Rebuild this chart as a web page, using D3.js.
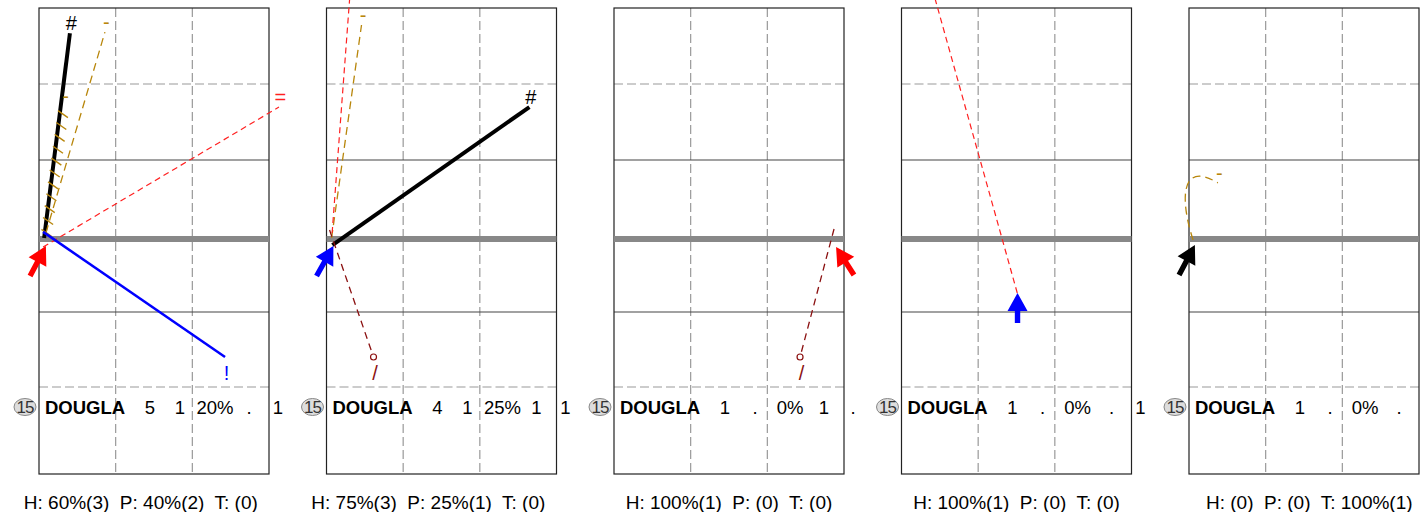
<!DOCTYPE html>
<html lang="en">
<head>
<meta charset="UTF-8">
<title>Attack chart</title>
<script src="https://cdn.jsdelivr.net/npm/d3@7"></script>
<style>
  body { margin: 0; background: #fff; }
  text { font-family: "Liberation Sans", Arial, sans-serif; }
</style>
</head>
<body>
<script>
// one panel per rotation / zone, same player in each
var panels = [0, 1, 2, 3, 4];
var playerNumber = "15";
var playerName = "DOUGLA";
var panelStats = [
  ["5", "1", "20%", ".", "1"],
  ["4", "1", "25%", "1", "1"],
  ["1", ".", "0%", "1", "."],
  ["1", ".", "0%", ".", "1"],
  ["1", ".", "0%", "."]
];
var panelSummary = [
  "H: 60%(3)  P: 40%(2)  T: (0)     ",
  "H: 75%(3)  P: 25%(1)  T: (0)     ",
  "H: 100%(1)  P: (0)  T: (0)",
  "H: 100%(1)  P: (0)  T: (0)",
  "  H: (0)  P: (0)  T: 100%(1)"
];

// attacks, court metres: x 0..9 left->right, y -9 (far end) .. 0 (net) .. 9
var attackPanel = [0, 0, 0, 0, 0, 1, 1, 1, 1, 2, 3, 4];
var attackCode  = ["#", "-", "-", "=", "!", "#", "-", "=", "/", "/", "=", "-"];
var attackX0 = [0.20, 0.27, 0.27, 0.16, 0.16, 0.23, 0.20, 0.22, 0.12, 8.61, 4.53, 0.16];
var attackY0 = [-0.04, -0.23, -0.08, 0.33, -0.27, 0.25, -0.04, -0.23, -0.34, -0.38, 2.22, 0.04];
var attackX1 = [1.21, 2.58, 0.98, 9.39, 7.28, 7.94, 1.37, 0.96, 1.84, 7.28, 1.11, 1.13];
var attackY1 = [-8.00, -8.05, -5.13, -5.09, 4.80, -5.09, -8.33, -10.1, 4.80, 4.80, -10.1, -2.13];
// hatched = drawn with cross ticks, bend = cubic control points
var attackHatch = [false, false, true, false, false, false, false, false, false, false, false, false];
var attackBend = [null, null, null, null, null, null, null, null, null, null, null,
  [[-0.35, -1.48], [-0.35, -3.0]]];

// arrow showing where the set came from
var arrowColor = ["red", "blue", "red", "blue", "black"];
var arrowTip  = [[0.27, 0.29], [0.27, 0.29], [8.69, 0.33], [4.54, 2.22], [0.23, 0.25]];
var arrowTail = [[-0.35, 1.52], [-0.39, 1.52], [9.39, 1.48], [4.54, 3.44], [-0.39, 1.48]];

var codeStyle = {
  "#": {stroke: "#000", width: 4, dash: null, label: "#000"},
  "-": {stroke: "#b8860b", width: 1.3, dash: "8,5", label: "#b8860b"},
  "=": {stroke: "#ff2020", width: 1.2, dash: "6,4", label: "#ff2020"},
  "!": {stroke: "#0000ff", width: 2.5, dash: null, label: "#0000ff"},
  "/": {stroke: "#8b1010", width: 1.3, dash: "7,5", label: "#8b1010"}
};

var W = 1427, H = 512;
var svg = d3.select("body").append("svg")
    .attr("width", W)
    .attr("height", H);

var panelX = d3.scaleLinear().domain([0, 4]).range([39, 1189]);
var x = d3.scaleLinear().domain([0, 9]).range([0, 230]);
var y = d3.scaleLinear()
    .domain([-9, -6, -3, 0, 3, 6, 9])
    .range([8, 84, 160, 239, 312, 387, 474]);

var statX = [111, 141, 176, 210, 239];

panels.forEach(function(p) {
  var g = svg.append("g").attr("transform", "translate(" + panelX(p) + ",0)");

  // dashed grid
  [3, 6].forEach(function(v) {
    g.append("line")
        .attr("x1", x(v)).attr("x2", x(v))
        .attr("y1", y(-9)).attr("y2", y(9))
        .attr("stroke", "#999").attr("stroke-width", 1.2)
        .attr("stroke-dasharray", "9,4");
  });
  [-6, 6].forEach(function(v) {
    g.append("line")
        .attr("x1", x(0)).attr("x2", x(9))
        .attr("y1", y(v)).attr("y2", y(v))
        .attr("stroke", "#999").attr("stroke-width", 1.2)
        .attr("stroke-dasharray", "9,4");
  });
  // attack lines
  [-3, 3].forEach(function(v) {
    g.append("line")
        .attr("x1", x(0)).attr("x2", x(9))
        .attr("y1", y(v)).attr("y2", y(v))
        .attr("stroke", "#444").attr("stroke-width", 1.2);
  });
  g.append("rect")
      .attr("x", x(0)).attr("y", y(-9))
      .attr("width", x(9) - x(0)).attr("height", y(9) - y(-9))
      .attr("fill", "none").attr("stroke", "#222").attr("stroke-width", 1.2);
  // net
  g.append("line")
      .attr("x1", x(0)).attr("x2", x(9))
      .attr("y1", y(0)).attr("y2", y(0))
      .attr("stroke", "#888").attr("stroke-width", 6);

  // player row
  var rowY = 414;
  g.append("ellipse")
      .attr("cx", -14).attr("cy", rowY - 7)
      .attr("rx", 11).attr("ry", 8.5)
      .attr("fill", "#ddd").attr("stroke", "#888");
  g.append("text")
      .attr("x", -14).attr("y", rowY - 1)
      .attr("text-anchor", "middle")
      .attr("font-size", 17).attr("fill", "#333")
      .attr("letter-spacing", -1)
      .text(playerNumber);
  g.append("text")
      .attr("x", 6).attr("y", rowY)
      .attr("font-size", 18.5).attr("font-weight", "bold")
      .text(playerName);
  panelStats[p].forEach(function(s, k) {
    g.append("text")
        .attr("x", statX[k]).attr("y", rowY)
        .attr("text-anchor", "middle")
        .attr("font-size", 18.5)
        .text(s);
  });

  g.append("text")
      .attr("x", x(4.5)).attr("y", 509)
      .attr("text-anchor", "middle")
      .attr("font-size", 19)
      .attr("xml:space", "preserve")
      .style("white-space", "pre")
      .text(panelSummary[p]);
});

// attacks
attackCode.forEach(function(code, i) {
  var g = svg.append("g").attr("transform", "translate(" + panelX(attackPanel[i]) + ",0)");
  var st = codeStyle[code];
  var px0 = x(attackX0[i]), py0 = y(attackY0[i]);
  var px1 = x(attackX1[i]), py1 = y(attackY1[i]);

  if (attackHatch[i]) {
    var len = Math.hypot(px1 - px0, py1 - py0);
    var n = Math.floor(len / 12);
    for (var k = 0; k <= n; k++) {
      var t = (k * 12 + 4) / len;
      if (t > 1) break;
      var cx = px0 + (px1 - px0) * t, cy = py0 + (py1 - py0) * t;
      g.append("line")
          .attr("x1", cx - 5).attr("y1", cy - 3.5)
          .attr("x2", cx + 5).attr("y2", cy + 3.5)
          .attr("stroke", st.stroke).attr("stroke-width", 1.4);
    }
  } else {
    var path = d3.path();
    path.moveTo(px0, py0);
    if (attackBend[i]) {
      var b = attackBend[i];
      path.bezierCurveTo(x(b[0][0]), y(b[0][1]), x(b[1][0]), y(b[1][1]), px1, py1);
    } else {
      path.lineTo(px1, py1);
    }
    g.append("path")
        .attr("d", path.toString())
        .attr("fill", "none")
        .attr("stroke", st.stroke)
        .attr("stroke-width", st.width)
        .attr("stroke-dasharray", st.dash);
  }

  if (code === "/") {
    g.append("circle")
        .attr("cx", px1).attr("cy", py1).attr("r", 3)
        .attr("fill", "#fff").attr("stroke", st.stroke).attr("stroke-width", 1.2);
  }

  var up = attackY1[i] < attackY0[i];
  var ly = up ? py1 - 10 : py1 + 16;
  if (ly < 0) return; // label would sit above the picture
  g.append("text")
      .attr("x", px1 + 1.5)
      .attr("y", ly)
      .attr("text-anchor", "middle")
      .attr("dominant-baseline", "central")
      .attr("font-size", 20)
      .attr("fill", st.label)
      .text(code);
});

// set arrows
panels.forEach(function(p) {
  var g = svg.append("g").attr("transform", "translate(" + panelX(p) + ",0)");
  var tx = x(arrowTip[p][0]), ty = y(arrowTip[p][1]);
  var sx = x(arrowTail[p][0]), sy = y(arrowTail[p][1]);
  var dx = tx - sx, dy = ty - sy, L = Math.hypot(dx, dy);
  var ux = dx / L, uy = dy / L, nx = -uy, ny = ux;
  var headLen = 18, headW = 10, shaftW = 2.7;
  var bx = tx - ux * headLen, by = ty - uy * headLen;
  var pts = [
    [sx + nx * shaftW, sy + ny * shaftW],
    [bx + nx * shaftW, by + ny * shaftW],
    [bx + nx * headW, by + ny * headW],
    [tx, ty],
    [bx - nx * headW, by - ny * headW],
    [bx - nx * shaftW, by - ny * shaftW],
    [sx - nx * shaftW, sy - ny * shaftW]
  ];
  g.append("path")
      .attr("d", d3.line()(pts) + "Z")
      .attr("fill", arrowColor[p]);
});
</script>
</body>
</html>
